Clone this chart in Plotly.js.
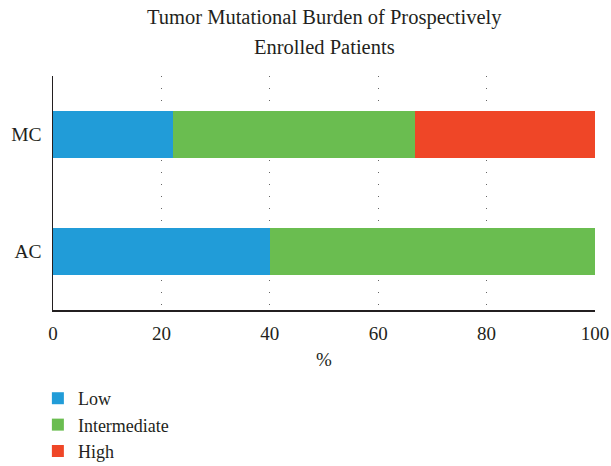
<!DOCTYPE html>
<html>
<head>
<meta charset="utf-8">
<script src="https://cdn.plot.ly/plotly-3.0.1.min.js"></script>
<style>html,body{margin:0;padding:0;background:#fff;}#chart{width:611px;height:466px;}</style>
</head>
<body>
<div id="chart"></div>
<script>
const categories = ["AC", "MC"];
const lowValues = [40.0, 22.2];
const intermediateValues = [60.0, 44.5];
const highValues = [0, 33.3];
const seriesNames = ["Low", "Intermediate", "High"];
const seriesColors = ["#219cd8", "#6abd50", "#ef4627"];
const xTicks = [0, 20, 40, 60, 80, 100];
const titleLines = ["Tumor Mutational Burden of Prospectively", "Enrolled Patients"];

const FONT = "Liberation Serif";
const series = [lowValues, intermediateValues, highValues];
const traces = series.map((vals, i) => ({
  type: "bar",
  orientation: "h",
  name: seriesNames[i],
  y: categories,
  x: vals,
  marker: {color: seriesColors[i], line: {width: 0}},
  hoverinfo: "x+name"
}));

const layout = {
  width: 611,
  height: 466,
  paper_bgcolor: "#fff",
  plot_bgcolor: "#fff",
  barmode: "stack",
  bargap: 0.59,
  margin: {l: 53, r: 16, t: 76, b: 156, autoexpand: false},
  font: {family: FONT, color: "#231f20", size: 19},
  xaxis: {
    range: [0, 100],
    tickvals: xTicks,
    ticktext: xTicks.map(String),
    showline: true,
    linecolor: "#231f20",
    linewidth: 1.5,
    ticks: "outside",
    ticklen: 6,
    tickcolor: "rgba(0,0,0,0)",
    showgrid: true,
    gridcolor: "#666",
    gridwidth: 1,
    griddash: "1px,11px",
    zeroline: false,
    automargin: false,
    tickfont: {family: FONT, size: 19, color: "#231f20"},
    title: {text: "%", font: {family: FONT, size: 19, color: "#231f20"}, standoff: 9},
    fixedrange: true
  },
  yaxis: {
    categoryorder: "array",
    categoryarray: categories,
    showline: true,
    linecolor: "#231f20",
    linewidth: 1.5,
    ticks: "",
    ticklabelstandoff: 6,
    showgrid: false,
    zeroline: false,
    automargin: false,
    tickfont: {family: FONT, size: 19.5, color: "#231f20"},
    fixedrange: true
  },
  showlegend: true,
  legend: {
    orientation: "v",
    traceorder: "normal",
    xref: "container",
    yref: "container",
    x: 0.062,
    xanchor: "left",
    y: 0.1845,
    yanchor: "top",
    font: {family: FONT, size: 18, color: "#231f20"},
    bgcolor: "rgba(0,0,0,0)"
  },
  annotations: titleLines.map((t, i) => ({
    text: t,
    xref: "paper",
    yref: "paper",
    x: 0.5,
    xanchor: "center",
    y: 1,
    yanchor: "middle",
    yshift: 59 - i * 30,
    showarrow: false,
    font: {family: FONT, size: 20.5, color: "#231f20"}
  }))
};

Plotly.newPlot("chart", traces, layout, {displayModeBar: false, staticPlot: true});
</script>
</body>
</html>
